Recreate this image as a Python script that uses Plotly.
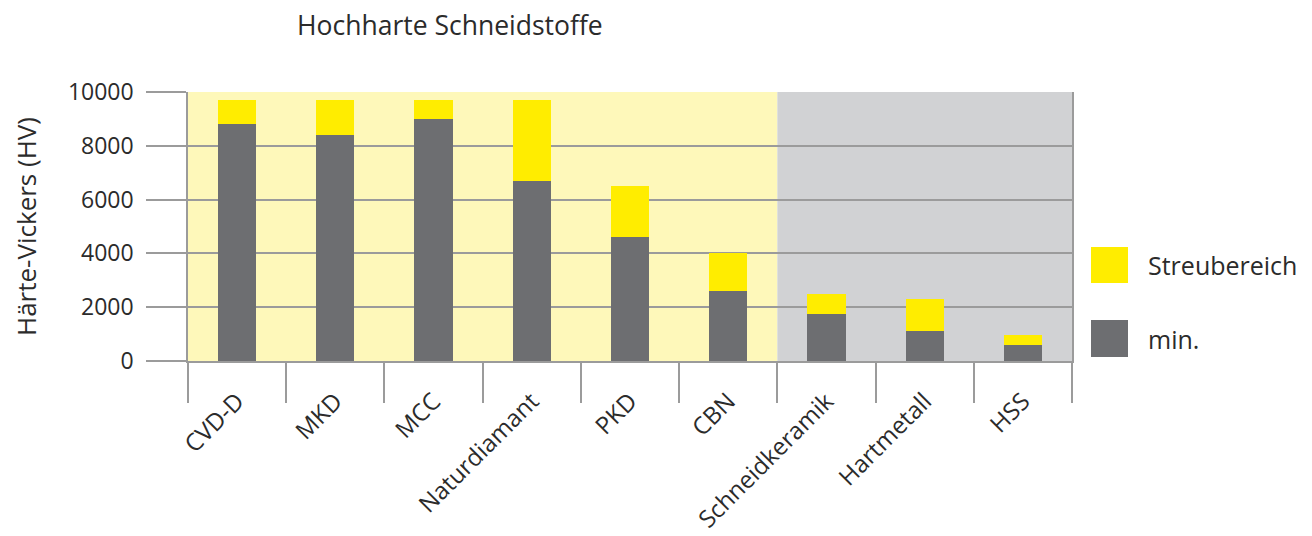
import plotly.graph_objects as go

categories = ["CVD-D", "MKD", "MCC", "Naturdiamant", "PKD", "CBN",
              "Schneidkeramik", "Hartmetall", "HSS"]
min_values = [8800, 8400, 9000, 6700, 4600, 2600, 1750, 1100, 600]
max_values = [9700, 9700, 9700, 9700, 6500, 4000, 2500, 2300, 950]
range_values = [mx - mn for mx, mn in zip(max_values, min_values)]
y_ticks = [0, 2000, 4000, 6000, 8000, 10000]
y_tick_text = ["0", "2000", "4000", "6000", "8000", "10000"]

YELLOW = "#FFED00"
GRAY = "#6D6E71"
BG_YELLOW = "#FEF8BA"
BG_GRAY = "#D1D2D4"
LINE = "#9B9B9B"
TXT = "#2B2B2B"
FONT = "Open Sans"
W = 400

# page offset (body margin)
OX, OY = 8, 8
L, T, PW, PH = 188 - OX, 92 - OY, 884, 269

fig = go.Figure()
fig.add_bar(x=categories, y=min_values, name="min.", marker_color=GRAY,
            marker_line_width=0)
fig.add_bar(x=categories, y=range_values, name="Streubereich",
            marker_color=YELLOW, marker_line_width=0)

# background bands
fig.add_shape(type="rect", xref="x", yref="y", x0=-0.5, x1=5.5, y0=0, y1=10000,
              fillcolor=BG_YELLOW, line_width=0, layer="below")
fig.add_shape(type="rect", xref="x", yref="y", x0=5.5, x1=8.5, y0=0, y1=10000,
              fillcolor=BG_GRAY, line_width=0, layer="below")

# manual legend (reference pixel positions)
legend_items = [("Streubereich", YELLOW, 247, 283), ("min.", GRAY, 320, 357)]
for label, col, ytop, ybot in legend_items:
    fig.add_shape(type="rect", xref="paper", yref="paper",
                  x0=(1091 - 188) / PW, x1=(1128 - 188) / PW,
                  y0=(361 - ybot) / PH, y1=(361 - ytop) / PH,
                  fillcolor=col, line_width=0)
    fig.add_annotation(xref="paper", yref="paper",
                       x=(1146 - 188) / PW, y=(361 - (ytop + ybot) / 2) / PH,
                       text=label, showarrow=False, xanchor="left",
                       yanchor="middle",
                       font=dict(family=FONT, size=25, color=TXT, weight=W))

fig.update_layout(
    barmode="stack",
    bargap=0.61,
    width=1312, height=536,
    margin=dict(l=L, r=1312 - L - PW, t=T, b=536 - T - PH, autoexpand=False),
    paper_bgcolor="white",
    plot_bgcolor="white",
    showlegend=False,
    font=dict(family=FONT, size=24, color=TXT, weight=W),
    title=dict(text="Hochharte Schneidstoffe", x=(297 - OX) / 1312,
               xanchor="left", y=1 - (26 - OY) / 536, yanchor="middle",
               font=dict(family=FONT, size=26.5, color=TXT, weight=W)),
)
fig.update_yaxes(
    range=[0, 10000], tickvals=y_ticks, ticktext=y_tick_text,
    ticks="outside", ticklen=40, automargin=False,
    tickcolor=LINE, tickwidth=1.5, showgrid=True, gridcolor=LINE,
    gridwidth=1.5, showline=True, linecolor=LINE, linewidth=1.5, mirror=True,
    zeroline=False, ticklabelstandoff=8,
    tickfont=dict(family=FONT, size=23, color=TXT, weight=W),
    title=dict(text="Härte-Vickers (HV)", standoff=31,
               font=dict(family=FONT, size=26, color=TXT, weight=W)),
)
fig.update_xaxes(
    tickangle=-45, ticks="outside", ticklen=40, tickson="boundaries",
    tickcolor=LINE, tickwidth=1.5, showline=True, linecolor=LINE,
    linewidth=1.5, showgrid=False, ticklabelstandoff=15, automargin=False,
    tickfont=dict(family=FONT, size=24, color=TXT, weight=W),
)

fig.write_html("out.html")
